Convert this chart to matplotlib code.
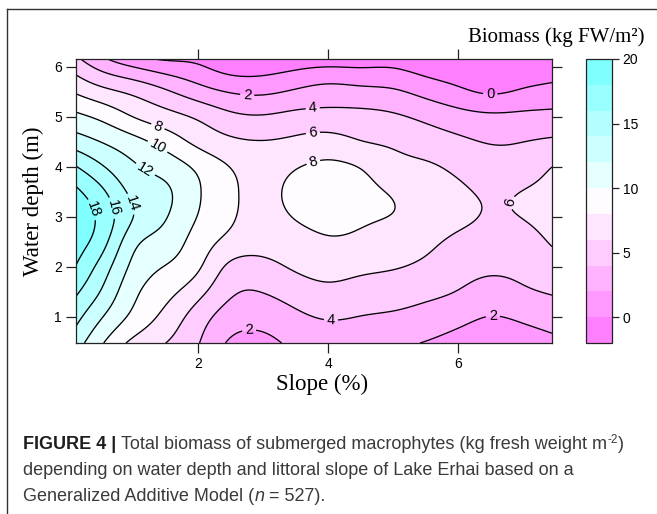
import numpy as np
import matplotlib
matplotlib.use("Agg")
import matplotlib.pyplot as plt
from matplotlib.lines import Line2D
from matplotlib import font_manager as fm

# ---------------- data ----------------
slope_nodes = [0.12, 0.5, 1.0, 1.5, 2.0, 2.5, 3.0, 3.5, 4.0, 4.5, 5.0, 5.5, 6.0, 6.5, 7.0, 7.44]
depth_nodes = [0.48, 1.0, 1.5, 2.0, 2.5, 3.0, 3.5, 4.0, 4.5, 5.0, 5.5, 6.16]

# predicted biomass (kg FW/m2) at each slope node, listed from 0.48 m up to 6.16 m depth
slope_0_12 = [12.9, 14.6, 16.3, 17.9, 18.9, 19.3, 18.4, 16.1, 13.0, 10.5, 7.8, 4.4]
slope_0_5  = [10.3, 12.2, 13.9, 15.3, 16.9, 17.5, 16.5, 14.3, 12.0, 9.6, 6.7, 2.45]
slope_1_0  = [7.5, 9.5, 10.5, 11.5, 12.6, 14.0, 13.5, 12.3, 10.7, 8.0, 5.6, 0.7]
slope_1_5  = [6.0, 7.4, 8.65, 9.9, 11.1, 12.1, 12.3, 11.2, 9.2, 6.8, 4.3, -0.2]
slope_2_0  = [4.1, 5.0, 6.65, 8.25, 9.1, 9.9, 10.2, 9.55, 7.5, 5.7, 2.9, -0.5]
slope_2_5  = [1.7, 3.05, 4.3, 5.55, 7.4, 8.2, 8.3, 7.95, 6.4, 4.5, 1.9, -1.8]
slope_3_0  = [1.4, 2.8, 4.05, 5.4, 6.8, 7.5, 7.65, 7.3, 6.1, 4.2, 1.7, -1.7]
slope_3_5  = [2.5, 3.6, 4.9, 6.25, 7.2, 8.1, 8.4, 7.9, 6.45, 4.6, 2.3, -1.2]
slope_4_0  = [3.0, 4.15, 5.5, 6.7, 7.75, 8.6, 8.9, 8.35, 6.8, 4.7, 2.8, -1.0]
slope_4_5  = [2.9, 3.95, 5.2, 6.4, 7.5, 8.3, 8.5, 7.9, 6.1, 4.6, 2.6, -1.0]
slope_5_0  = [2.4, 3.7, 4.95, 6.1, 6.85, 7.9, 7.8, 6.7, 5.7, 4.3, 2.3, -0.9]
slope_5_5  = [1.9, 3.25, 4.5, 5.65, 6.4, 7.15, 6.9, 6.25, 5.1, 3.55, 1.4, -1.6]
slope_6_0  = [1.2, 2.6, 3.9, 4.85, 5.6, 6.4, 6.3, 5.6, 4.4, 2.8, 0.47, -1.8]
slope_6_5  = [0.7, 1.95, 3.2, 4.4, 5.3, 5.85, 5.75, 4.9, 3.9, 2.4, -0.2, -1.9]
slope_7_0  = [1.0, 2.35, 3.7, 4.6, 5.35, 6.05, 6.05, 5.05, 4.0, 2.5, 0.3, -1.8]
slope_7_44 = [1.5, 2.85, 4.15, 5.2, 6.15, 6.6, 6.5, 6.0, 4.33, 2.6, 0.67, -1.5]

fill_levels = list(range(-2, 21, 2))
line_levels = list(range(0, 20, 2))
band_colors = ["#FF80FF", "#FF99FF", "#FFB3FF", "#FFCCFF", "#FFE6FF", "#FFFCFF",
               "#E6FFFF", "#CCFFFF", "#B3FFFF", "#99FFFF", "#80FFFF"]
x_ticks = [2, 4, 6]
y_ticks = [1, 2, 3, 4, 5, 6]
cbar_ticks = [0, 5, 10, 15, 20]

# ---------------- smooth surface for rendering ----------------
def spline_matrix(xk, xq):
    xk = np.asarray(xk, float); xq = np.asarray(xq, float)
    n = len(xk); h = np.diff(xk)
    A = np.zeros((n, n)); B = np.zeros((n, n))
    A[0, 0] = 1; A[-1, -1] = 1
    for i in range(1, n - 1):
        A[i, i - 1] = h[i - 1]; A[i, i] = 2 * (h[i - 1] + h[i]); A[i, i + 1] = h[i]
        B[i, i - 1] = 6 / h[i - 1]; B[i, i] = -6 / h[i - 1] - 6 / h[i]; B[i, i + 1] = 6 / h[i]
    Mi = np.linalg.solve(A, B)
    idx = np.clip(np.searchsorted(xk, xq) - 1, 0, n - 2)
    x0 = xk[idx]; x1 = xk[idx + 1]; hh = x1 - x0
    t1 = (x1 - xq) / hh; t0 = (xq - x0) / hh
    S = np.zeros((len(xq), n)); r = np.arange(len(xq))
    S[r, idx] += t1; S[r, idx + 1] += t0
    S += ((t1 ** 3 - t1) * hh ** 2 / 6)[:, None] * Mi[idx]
    S += ((t0 ** 3 - t0) * hh ** 2 / 6)[:, None] * Mi[idx + 1]
    return S

Z = np.column_stack([slope_0_12, slope_0_5, slope_1_0, slope_1_5, slope_2_0, slope_2_5,
                     slope_3_0, slope_3_5, slope_4_0, slope_4_5, slope_5_0, slope_5_5,
                     slope_6_0, slope_6_5, slope_7_0, slope_7_44])
xq = np.linspace(slope_nodes[0], slope_nodes[-1], 400)
yq = np.linspace(depth_nodes[0], depth_nodes[-1], 300)
Zf = spline_matrix(depth_nodes, yq) @ Z @ spline_matrix(slope_nodes, xq).T
X, Y = np.meshgrid(xq, yq)

# ---------------- figure ----------------
W, H = 657, 514
plt.rcParams['font.family'] = ['Liberation Sans', 'DejaVu Sans']
fig = plt.figure(figsize=(W / 100, H / 100), dpi=100)
fig.patch.set_facecolor('white')

def fx(px): return px / W
def fy(py): return 1 - py / H

ax = fig.add_axes([fx(76), fy(343), fx(552) - fx(76), fy(59) - fy(343)])
cax = fig.add_axes([fx(586), fy(343), fx(611.5) - fx(586), fy(59) - fy(343)])

cf = ax.contourf(X, Y, np.clip(Zf, -1.999, 19.999), levels=fill_levels, colors=band_colors)
cs = ax.contour(X, Y, Zf, levels=line_levels, colors='black', linewidths=0.95)

label_pos = [(6.49, 5.46), (2.75, 5.40), (3.76, 5.18), (3.76, 4.72), (3.76, 4.14),
             (1.37, 4.78), (1.38, 4.42), (1.2, 3.98), (0.95, 3.25), (0.6, 3.15),
             (0.27, 3.1), (6.83, 3.28), (2.78, 0.8), (4.04, 0.94), (6.53, 1.02)]
ax.clabel(cs, manual=label_pos, inline=True, inline_spacing=3, fontsize=10.5, fmt='%d')

ax.set_xlim(slope_nodes[0], slope_nodes[-1])
ax.set_ylim(depth_nodes[0], depth_nodes[-1])
ax.set_xticks(x_ticks)
ax.set_yticks(y_ticks)
ax.tick_params(direction='out', length=7, width=0.9, top=True, right=True,
               labeltop=False, labelright=False, labelsize=10, pad=3, color='#222222')
for s in ax.spines.values():
    s.set_linewidth(0.9); s.set_color('#222222')

cb = fig.colorbar(cf, cax=cax, ticks=cbar_ticks)
cb.outline.set_linewidth(0.9)
cb.outline.set_edgecolor('#222222')
cb.ax.tick_params(direction='out', length=5, width=0.9, labelsize=10, pad=3, color='#222222')

serif = ['Liberation Serif', 'DejaVu Serif']
fig.text(fx(645), fy(42), 'Biomass (kg FW/m²)', ha='right', va='baseline',
         family=serif, fontsize=15)
fig.text(fx(322), fy(390), 'Slope (%)', ha='center', va='baseline', family=serif, fontsize=16.5)
fig.text(fx(33), fy(201), 'Water depth (m)', ha='center', va='center', rotation=90,
         family=serif, fontsize=16.5)

# frame around figure
fig.add_artist(Line2D([fx(7), fx(7)], [fy(9), 0], color='#333333', lw=1.0))
fig.add_artist(Line2D([fx(7), 1], [fy(9), fy(9)], color='#333333', lw=1.0))

# caption
names = {f.name for f in fm.fontManager.ttflist}
cap_family = ['Liberation Sans Narrow'] if 'Liberation Sans Narrow' in names else ['Liberation Sans']
r = fig.canvas.get_renderer()

def measure(text, size, **kw):
    t = fig.text(0, 0, text, fontsize=size, family=cap_family, **kw)
    w = t.get_window_extent(renderer=r).width
    t.remove()
    return w

line2 = 'depending on water depth and littoral slope of Lake Erhai based on a'
size = 12 * 550 / measure(line2, 12)
body = '#3a3a3a'

def segments(x, y, segs):
    for text, kw in segs:
        kw = dict(kw)
        dy = kw.pop('dy', 0)
        fs = kw.pop('fs', size)
        t = fig.text(fx(x), fy(y - dy), text, fontsize=fs, family=cap_family,
                     ha='left', va='baseline', **kw)
        x += t.get_window_extent(renderer=r).width

segments(23, 449, [('FIGURE 4 | ', dict(weight='bold', color='#1e1e1e')),
                   ('Total biomass of submerged macrophytes (kg fresh weight m', dict(color=body)),
                   ('-2', dict(color=body, fs=size * 0.65, dy=6)),
                   (')', dict(color=body))])
segments(23, 475, [(line2, dict(color=body))])
segments(23, 501, [('Generalized Additive Model (', dict(color=body)),
                   ('n', dict(color=body, style='italic')),
                   (' = 527).', dict(color=body))])

fig.savefig('out.png', dpi=100)
